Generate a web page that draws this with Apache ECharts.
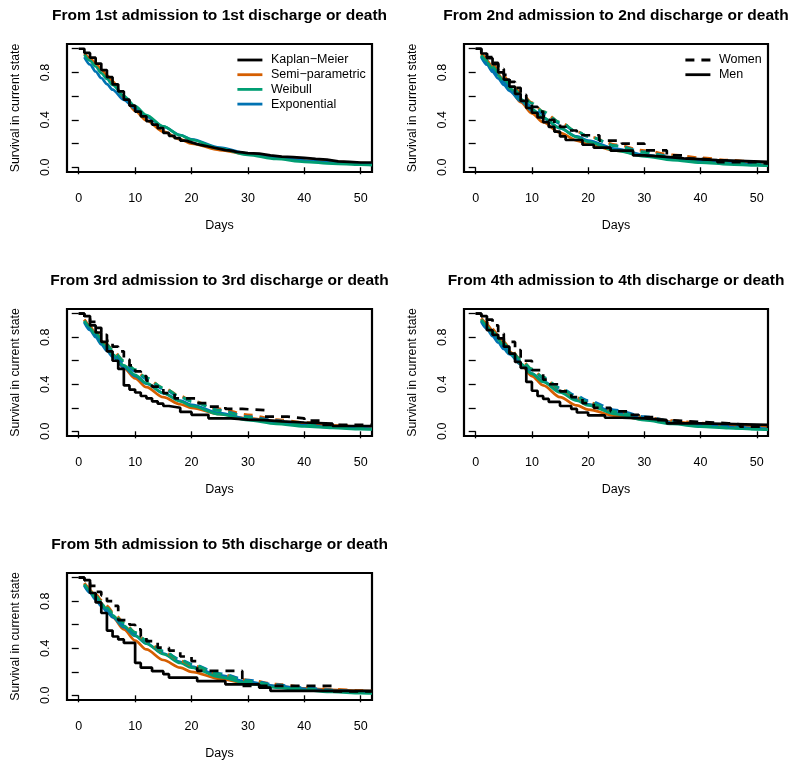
<!DOCTYPE html>
<html><head><meta charset="utf-8">
<script src="https://cdn.jsdelivr.net/npm/echarts@6/dist/echarts.min.js"></script>
<style>html,body{margin:0;padding:0;background:#fff}#c{width:800px;height:768px}</style>
</head><body><div id="c"></div>
<script>
// ---------------- DATA ----------------
const panelTitles = [
  "From 1st admission to 1st discharge or death",
  "From 2nd admission to 2nd discharge or death",
  "From 3rd admission to 3rd discharge or death",
  "From 4th admission to 4th discharge or death",
  "From 5th admission to 5th discharge or death"
];
const xTicks = [0, 10, 20, 30, 40, 50];
const yTicks = [0, 0.2, 0.4, 0.6, 0.8, 1.0];
const yLabels = [0, 0.4, 0.8];
const modelNames = ["Kaplan\u2212Meier", "Semi\u2212parametric", "Weibull", "Exponential"];
const sexNames = ["Women", "Men"];

// days at which the fitted curves were read
const modelDays = [1,2,3,4,5,6,8,10,12,15,18,20,25,30,35,40,45,50,52];

// Panel 1 (all patients)
const p1KmT = [0,1,2,3,4,5,6,7,8,9,10,11,12,13,14,15,16,17,18,19,20,21,22,23,24,25,26,27,28,29,30,32,34,36,38,40,42,44,46,48,50,52];
const p1KmS = [1.0,0.965,0.925,0.875,0.82,0.76,0.70,0.64,0.57,0.52,0.47,0.43,0.39,0.36,0.33,0.29,0.265,0.245,0.225,0.21,0.195,0.185,0.175,0.165,0.155,0.145,0.14,0.13,0.125,0.12,0.115,0.10,0.09,0.085,0.08,0.07,0.065,0.05,0.045,0.04,0.04,0.04];
const p1Semi = [0.96,0.92,0.875,0.825,0.775,0.725,0.59,0.475,0.395,0.30,0.235,0.20,0.145,0.11,0.085,0.065,0.048,0.035,0.032];
const p1Weib = [0.95,0.90,0.85,0.795,0.745,0.695,0.60,0.515,0.44,0.345,0.27,0.232,0.158,0.105,0.07,0.046,0.031,0.021,0.018];
const p1Expo = [0.93,0.867,0.808,0.753,0.702,0.655,0.569,0.495,0.428,0.343,0.272,0.235,0.165,0.115,0.081,0.057,0.04,0.028,0.025];

// Panel 2
const p2KmWomenT = [0,1,2,3,4,5,6,7,8,9,10,11,12,13,14,15,16,18,22,26,30,34,37,40,43,50,52];
const p2KmWomenS = [1.0,0.97,0.93,0.88,0.83,0.78,0.72,0.67,0.61,0.56,0.51,0.47,0.43,0.40,0.37,0.34,0.31,0.27,0.225,0.20,0.142,0.10,0.072,0.06,0.043,0.03,0.03];
const p2KmMenT = [0,1,2,3,4,5,6,7,8,9,10,11,12,13,14,15,16,19,21,24,28,30,34,37,43,52];
const p2KmMenS = [1.0,0.96,0.92,0.87,0.80,0.74,0.68,0.62,0.56,0.50,0.46,0.42,0.38,0.34,0.30,0.26,0.23,0.19,0.165,0.14,0.10,0.088,0.075,0.06,0.045,0.045];
const p2SemiWomen = [0.96,0.92,0.87,0.82,0.77,0.72,0.63,0.545,0.47,0.38,0.30,0.26,0.19,0.14,0.105,0.08,0.06,0.045,0.04];
const p2WeibWomen = [0.945,0.90,0.85,0.80,0.75,0.70,0.615,0.54,0.47,0.38,0.30,0.26,0.18,0.125,0.085,0.06,0.04,0.028,0.024];
const p2ExpoWomen = [0.935,0.875,0.82,0.765,0.715,0.67,0.585,0.51,0.45,0.37,0.30,0.26,0.18,0.13,0.09,0.065,0.045,0.03,0.026];
const p2SemiMen = [0.955,0.90,0.845,0.785,0.725,0.665,0.55,0.455,0.38,0.29,0.225,0.195,0.14,0.10,0.075,0.055,0.042,0.032,0.03];
const p2WeibMen = [0.94,0.885,0.83,0.775,0.72,0.67,0.575,0.49,0.42,0.33,0.255,0.215,0.14,0.092,0.06,0.039,0.025,0.016,0.014];
const p2ExpoMen = [0.93,0.865,0.805,0.75,0.695,0.645,0.56,0.48,0.415,0.33,0.26,0.225,0.155,0.105,0.072,0.05,0.034,0.023,0.02];

// Panel 3
const p3KmWomenT = [0,1,2,3,4,5,6,7,8,9,10,11,12,13,15,17,21,23,26,29,33,37,40,43,52];
const p3KmWomenS = [1.0,0.97,0.93,0.88,0.82,0.77,0.72,0.68,0.61,0.56,0.51,0.47,0.43,0.38,0.325,0.28,0.24,0.21,0.19,0.18,0.125,0.11,0.09,0.055,0.055];
const p3KmMenT = [0,1,2,3,4,5,6,7,8,9,10,11,12,13,14,15,16,18,20,23,27,30,33,36,40,45,52];
const p3KmMenS = [1.0,0.98,0.90,0.84,0.76,0.68,0.60,0.53,0.39,0.355,0.33,0.30,0.28,0.255,0.235,0.215,0.20,0.165,0.14,0.11,0.10,0.095,0.085,0.075,0.065,0.045,0.045];
const p3SemiWomen = [0.95,0.90,0.85,0.79,0.74,0.69,0.60,0.52,0.45,0.37,0.30,0.26,0.19,0.14,0.10,0.075,0.055,0.04,0.036];
const p3WeibWomen = [0.94,0.89,0.835,0.785,0.735,0.69,0.60,0.525,0.455,0.37,0.295,0.255,0.175,0.12,0.08,0.055,0.037,0.025,0.021];
const p3ExpoWomen = [0.935,0.875,0.82,0.765,0.715,0.67,0.585,0.51,0.445,0.36,0.29,0.255,0.18,0.125,0.09,0.063,0.045,0.031,0.027];
const p3SemiMen = [0.95,0.89,0.83,0.77,0.71,0.65,0.54,0.45,0.375,0.29,0.23,0.20,0.145,0.11,0.085,0.065,0.05,0.04,0.036];
const p3WeibMen = [0.935,0.875,0.815,0.76,0.705,0.655,0.56,0.48,0.41,0.325,0.255,0.215,0.145,0.095,0.063,0.042,0.028,0.018,0.016];
const p3ExpoMen = [0.925,0.86,0.80,0.74,0.685,0.635,0.545,0.47,0.405,0.325,0.26,0.225,0.155,0.105,0.073,0.05,0.035,0.024,0.021];

// Panel 4
const p4KmWomenT = [0,1,2,3,4,5,7,8,10,12,13,15,17,19,21,24,27,29,32,34,40,45,47,52];
const p4KmWomenS = [1.0,0.98,0.95,0.90,0.83,0.76,0.69,0.60,0.52,0.44,0.40,0.34,0.29,0.24,0.20,0.17,0.14,0.12,0.095,0.08,0.068,0.06,0.04,0.04];
const p4KmMenT = [0,1,2,3,4,5,6,7,8,9,10,11,12,13,15,17,18,20,23,26,30,34,40,52];
const p4KmMenS = [1.0,0.98,0.86,0.82,0.79,0.72,0.66,0.59,0.54,0.42,0.345,0.30,0.275,0.25,0.215,0.19,0.16,0.135,0.115,0.11,0.095,0.068,0.054,0.054];
const p4SemiWomen = [0.96,0.92,0.87,0.815,0.76,0.71,0.61,0.53,0.455,0.36,0.285,0.245,0.17,0.12,0.09,0.07,0.055,0.045,0.04];
const p4WeibWomen = [0.95,0.90,0.85,0.80,0.75,0.70,0.61,0.53,0.46,0.365,0.29,0.245,0.165,0.11,0.072,0.047,0.03,0.02,0.017];
const p4ExpoWomen = [0.94,0.88,0.825,0.775,0.725,0.68,0.595,0.52,0.455,0.37,0.30,0.26,0.18,0.125,0.087,0.06,0.042,0.03,0.026];
const p4SemiMen = [0.955,0.91,0.855,0.80,0.74,0.68,0.57,0.47,0.39,0.29,0.22,0.185,0.13,0.10,0.08,0.065,0.055,0.045,0.04];
const p4WeibMen = [0.94,0.89,0.835,0.78,0.725,0.67,0.575,0.49,0.42,0.33,0.26,0.22,0.145,0.095,0.062,0.04,0.026,0.017,0.015];
const p4ExpoMen = [0.93,0.87,0.81,0.755,0.70,0.655,0.57,0.49,0.425,0.34,0.27,0.23,0.16,0.11,0.075,0.052,0.036,0.025,0.022];

// Panel 5
const p5KmWomenT = [0,1,2,3,4,5,6,7,9,10,11,12,14,16,18,20,21,29,45,52];
const p5KmWomenS = [1.0,0.98,0.93,0.88,0.85,0.80,0.76,0.64,0.60,0.56,0.50,0.46,0.405,0.38,0.33,0.29,0.207,0.08,0.034,0.034];
const p5KmMenT = [0,1,2,3,4,5,6,7,8,10,11,13,15,16,21,26,32,34,52];
const p5KmMenS = [1.0,0.98,0.87,0.79,0.70,0.55,0.50,0.475,0.445,0.275,0.235,0.205,0.18,0.15,0.12,0.093,0.065,0.037,0.037];
const p5SemiWomen = [0.955,0.91,0.86,0.81,0.76,0.71,0.62,0.535,0.46,0.37,0.295,0.255,0.18,0.13,0.095,0.07,0.052,0.04,0.036];
const p5WeibWomen = [0.945,0.895,0.845,0.795,0.745,0.70,0.615,0.535,0.465,0.375,0.30,0.26,0.18,0.12,0.082,0.055,0.037,0.025,0.021];
const p5ExpoWomen = [0.935,0.88,0.825,0.775,0.73,0.685,0.60,0.525,0.46,0.375,0.305,0.265,0.185,0.13,0.09,0.064,0.045,0.031,0.027];
const p5SemiMen = [0.95,0.895,0.84,0.78,0.72,0.665,0.56,0.465,0.39,0.30,0.235,0.20,0.14,0.10,0.077,0.06,0.047,0.037,0.034];
const p5WeibMen = [0.94,0.885,0.83,0.78,0.73,0.68,0.59,0.51,0.44,0.35,0.275,0.235,0.155,0.10,0.066,0.043,0.028,0.018,0.016];
const p5ExpoMen = [0.93,0.87,0.815,0.76,0.71,0.665,0.58,0.505,0.44,0.355,0.285,0.245,0.17,0.115,0.08,0.055,0.038,0.026,0.023];

// ---------------- STYLE / LAYOUT ----------------
const FONT = "'Liberation Sans', Arial, Helvetica, sans-serif";
const COL = { km: '#000000', semi: '#D55E00', weib: '#009E73', expo: '#0072B2' };
const LW = 2.7;
const DASH = [9, 7];
const boxes = [
  [67, 44, 305, 128],
  [464, 44, 304, 128],
  [67, 309, 305, 127],
  [464, 309, 304, 127],
  [67, 573, 305, 127]
];

const zip = (a, b) => a.map((v, i) => [v, b[i]]);

const panels = [
  { km: [[p1KmT, p1KmS, 'solid', modelNames[0]]],
    models: [[p1Semi, COL.semi, 'solid', modelNames[1]], [p1Expo, COL.expo, 'solid', modelNames[3]], [p1Weib, COL.weib, 'solid', modelNames[2]]] },
  { km: [[p2KmWomenT, p2KmWomenS, 'dashed', sexNames[0]], [p2KmMenT, p2KmMenS, 'solid', sexNames[1]]],
    models: [[p2SemiMen, COL.semi, 'solid'], [p2ExpoMen, COL.expo, 'solid'], [p2WeibMen, COL.weib, 'solid'],
             [p2SemiWomen, COL.semi, 'dashed'], [p2ExpoWomen, COL.expo, 'dashed'], [p2WeibWomen, COL.weib, 'dashed']] },
  { km: [[p3KmWomenT, p3KmWomenS, 'dashed'], [p3KmMenT, p3KmMenS, 'solid']],
    models: [[p3SemiMen, COL.semi, 'solid'], [p3ExpoMen, COL.expo, 'solid'], [p3WeibMen, COL.weib, 'solid'],
             [p3SemiWomen, COL.semi, 'dashed'], [p3ExpoWomen, COL.expo, 'dashed'], [p3WeibWomen, COL.weib, 'dashed']] },
  { km: [[p4KmWomenT, p4KmWomenS, 'dashed'], [p4KmMenT, p4KmMenS, 'solid']],
    models: [[p4SemiMen, COL.semi, 'solid'], [p4ExpoMen, COL.expo, 'solid'], [p4WeibMen, COL.weib, 'solid'],
             [p4SemiWomen, COL.semi, 'dashed'], [p4ExpoWomen, COL.expo, 'dashed'], [p4WeibWomen, COL.weib, 'dashed']] },
  { km: [[p5KmWomenT, p5KmWomenS, 'dashed'], [p5KmMenT, p5KmMenS, 'solid']],
    models: [[p5SemiMen, COL.semi, 'solid'], [p5ExpoMen, COL.expo, 'solid'], [p5WeibMen, COL.weib, 'solid'],
             [p5SemiWomen, COL.semi, 'dashed'], [p5ExpoWomen, COL.expo, 'dashed'], [p5WeibWomen, COL.weib, 'dashed']] }
];

const grid = [], xAxis = [], yAxis = [], series = [], graphic = [];

panels.forEach((p, i) => {
  const [l, t, w, h] = boxes[i];
  grid.push({ left: l, top: t, width: w, height: h, show: true, borderColor: '#000', borderWidth: 2.2, backgroundColor: 'transparent', containLabel: false });
  xAxis.push({
    type: 'value', gridIndex: i, min: -2.08, max: 52,
    axisLine: { show: false }, splitLine: { show: false },
    axisTick: { show: true, customValues: xTicks, length: 7, lineStyle: { color: '#000', width: 1.3 } },
    axisLabel: { customValues: xTicks, color: '#000', fontSize: 12.5, fontFamily: FONT, margin: 20 },
    name: 'Days', nameLocation: 'middle', nameGap: 47,
    nameTextStyle: { color: '#000', fontSize: 12.5, fontFamily: FONT }
  });
  yAxis.push({
    type: 'value', gridIndex: i, min: -0.04, max: 1.04,
    axisLine: { show: false }, splitLine: { show: false },
    axisTick: { show: true, customValues: yTicks, length: 7, lineStyle: { color: '#000', width: 1.3 } },
    axisLabel: { customValues: yLabels, rotate: 90, color: '#000', fontSize: 12.5, fontFamily: FONT, margin: 15,
                 formatter: v => Number(v).toFixed(1) },
    name: 'Survival in current state', nameLocation: 'middle', nameGap: 45,
    nameTextStyle: { color: '#000', fontSize: 12.3, fontFamily: FONT }
  });
  p.models.forEach(m => {
    series.push({
      type: 'line', name: m[3] || ('model ' + i), xAxisIndex: i, yAxisIndex: i,
      data: zip(modelDays, m[0]), smooth: 0.3, smoothMonotone: 'x', symbol: 'none', showSymbol: false,
      lineStyle: { color: m[1], width: LW, type: m[2] === 'dashed' ? DASH : 'solid', cap: 'butt' },
      itemStyle: { color: m[1] }, silent: true, z: 2
    });
  });
  p.km.forEach(k => {
    series.push({
      type: 'line', name: k[3] || ('KM ' + i), xAxisIndex: i, yAxisIndex: i,
      data: zip(k[0], k[1]), step: 'end', symbol: 'none', showSymbol: false,
      lineStyle: { color: COL.km, width: LW, type: k[2] === 'dashed' ? DASH : 'solid', cap: 'butt' },
      itemStyle: { color: COL.km }, silent: true, z: 3
    });
  });
  graphic.push({
    type: 'text', x: l + w / 2, y: t - 28,
    style: { text: panelTitles[i], fill: '#000', font: 'bold 15.5px ' + FONT, textAlign: 'center', textVerticalAlign: 'middle' }
  });
});

const legendCommon = {
  orient: 'vertical', padding: 0, itemWidth: 25, itemHeight: 14, itemGap: 0.7,
  selectedMode: false,
  itemStyle: { opacity: 0, borderWidth: 0 },
  lineStyle: { width: 2.8 },
  textStyle: { color: '#000', fontSize: 12.5, fontFamily: FONT, lineHeight: 14, padding: [0, 0, 0, 3.5] }
};

const option = {
  animation: false,
  backgroundColor: '#fff',
  grid, xAxis, yAxis,
  series,
  legend: [
    Object.assign({}, legendCommon, { left: 236, top: 53, data: modelNames }),
    Object.assign({}, legendCommon, { left: 684, top: 53, data: sexNames })
  ],
  graphic
};

const chart = echarts.init(document.getElementById('c'), null, { renderer: 'canvas' });
chart.setOption(option);
</script>
</body></html>
